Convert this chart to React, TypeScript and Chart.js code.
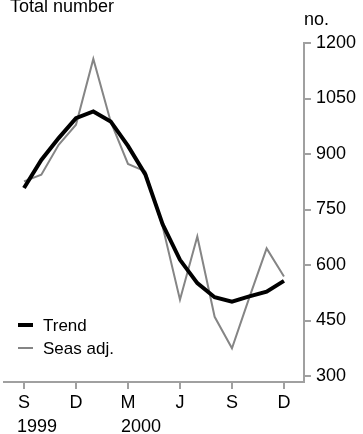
import React, { useEffect, useRef } from 'react';
import { Chart, registerables } from 'chart.js';

Chart.register(...registerables);

// ---- data ----
const monthLetters = ['S', 'O', 'N', 'D', 'J', 'F', 'M', 'A', 'M', 'J', 'J', 'A', 'S', 'O', 'N', 'D'];
const monthTickIndex = [0, 3, 6, 9, 12, 15];
const yearTickIndex = [0, 6];
const yearLabels = ['1999', '2000'];
const trendValues = [808, 884, 943, 997, 1015, 988, 922, 845, 710, 614, 551, 513, 501, 515, 528, 557];
const seasAdjValues = [826, 844, 925, 979, 1157, 988, 873, 853, 704, 506, 677, 460, 375, 512, 645, 569];
const yTickValues = [300, 450, 600, 750, 900, 1050, 1200];
const seriesNames = ['Trend', 'Seas adj.'];
const titleText = 'Total number';
const unitText = 'no.';

const FONT = '"Liberation Sans", Arial, sans-serif';
const AXIS_GREY = '#a0a0a0';
const SERIES_GREY = '#858585';

const textPlugin = {
  id: 'textPlugin',
  afterDraw(chart: any) {
    const ctx = chart.ctx as CanvasRenderingContext2D;
    const area = chart.chartArea;
    ctx.save();
    ctx.fillStyle = '#000';
    ctx.textBaseline = 'alphabetic';
    ctx.textAlign = 'left';
    ctx.font = `18px ${FONT}`;
    ctx.fillText(titleText, 10, 12);
    ctx.fillText(unitText, area.right, 25);

    // legend inside the plot area (bottom-left)
    ctx.font = `17px ${FONT}`;
    ctx.textBaseline = 'middle';
    chart.data.datasets.forEach((ds: any, i: number) => {
      const cy = area.bottom - 57 + i * 23;
      const x0 = area.left + 14;
      ctx.beginPath();
      ctx.strokeStyle = ds.borderColor;
      ctx.lineWidth = ds.borderWidth;
      ctx.lineCap = 'butt';
      ctx.moveTo(x0, cy);
      ctx.lineTo(x0 + 15, cy);
      ctx.stroke();
      ctx.fillStyle = '#000';
      ctx.fillText(ds.label, x0 + 25, cy + 1);
    });
    ctx.restore();
  },
};

export default function App() {
  const canvasRef = useRef<HTMLCanvasElement | null>(null);

  useEffect(() => {
    if (!canvasRef.current) return;
    const tickFont = { family: FONT, size: 18, lineHeight: 0.75 };
    const xMin = -1.154;
    const xMax = 16.154;
    const chart = new Chart(canvasRef.current, {
      type: 'line',
      data: {
        datasets: [
          {
            label: seriesNames[0],
            data: trendValues.map((v, i) => ({ x: i, y: v })),
            borderColor: '#000000',
            borderWidth: 4,
            pointRadius: 0,
            tension: 0,
            xAxisID: 'x',
            yAxisID: 'y',
          },
          {
            label: seriesNames[1],
            data: seasAdjValues.map((v, i) => ({ x: i, y: v })),
            borderColor: SERIES_GREY,
            borderWidth: 2,
            pointRadius: 0,
            tension: 0,
            xAxisID: 'x',
            yAxisID: 'y',
          },
        ],
      },
      options: {
        responsive: false,
        animation: false,
        devicePixelRatio: 1,
        layout: { padding: { left: 4, right: 2, top: 43, bottom: -2.4 } },
        plugins: {
          legend: { display: false },
          title: { display: false },
          tooltip: { enabled: false },
        },
        scales: {
          x: {
            type: 'linear',
            position: 'bottom',
            weight: 0,
            min: xMin,
            max: xMax,
            afterBuildTicks: (axis: any) => {
              axis.ticks = monthTickIndex.map((v) => ({ value: v }));
            },
            ticks: {
              font: tickFont,
              color: '#000',
              padding: 7.55,
              maxRotation: 0,
              autoSkip: false,
              callback: (v: any) => monthLetters[Math.round(Number(v))],
            },
            grid: { drawOnChartArea: false, drawTicks: true, tickLength: 7, color: AXIS_GREY, lineWidth: 2 },
            border: { display: true, color: AXIS_GREY, width: 2 },
          },
          x2: {
            type: 'linear',
            position: 'bottom',
            weight: 1,
            min: xMin,
            max: xMax,
            afterBuildTicks: (axis: any) => {
              axis.ticks = yearTickIndex.map((v) => ({ value: v }));
            },
            ticks: {
              font: tickFont,
              color: '#000',
              padding: 2.65,
              align: 'start',
              labelOffset: -7,
              maxRotation: 0,
              autoSkip: false,
              callback: (_v: any, i: number) => yearLabels[i],
            },
            grid: { display: false, drawTicks: false },
            border: { display: false },
          },
          y: {
            type: 'linear',
            position: 'right',
            min: 283.8,
            max: 1200,
            afterBuildTicks: (axis: any) => {
              axis.ticks = yTickValues.map((v) => ({ value: v }));
            },
            ticks: {
              font: { family: FONT, size: 18 },
              color: '#000',
              padding: 5,
              callback: (v: any) => String(v),
            },
            grid: { drawOnChartArea: false, drawTicks: true, tickLength: 7, color: AXIS_GREY, lineWidth: 2 },
            border: { display: true, color: AXIS_GREY, width: 2 },
          },
        },
      },
      plugins: [textPlugin],
    } as any);
    return () => chart.destroy();
  }, []);

  return (
    <div style={{ position: 'absolute', left: 0, top: 0, width: 363, height: 434 }}>
      <canvas ref={canvasRef} width={363} height={434} />
    </div>
  );
}
